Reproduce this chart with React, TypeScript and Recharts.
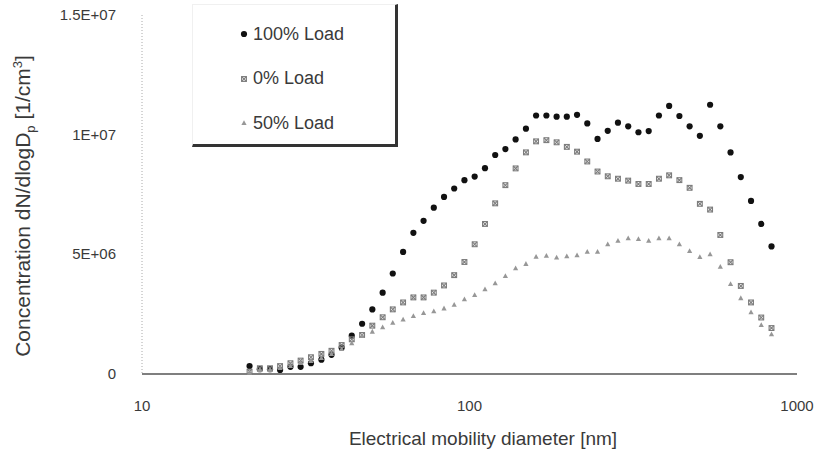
import React from 'react'
import {
  ScatterChart, Scatter, XAxis, YAxis, ZAxis,
} from 'recharts'

// mobility diameters [nm], 32 channels per decade
const diameters = [
  21.3, 22.9, 24.6, 26.4, 28.4, 30.5, 32.8, 35.3, 37.9, 40.7,
  43.7, 47.0, 50.5, 54.3, 58.3, 62.7, 67.4, 72.4, 77.8, 83.6,
  89.8, 96.5, 103.7, 111.5, 119.8, 128.7, 138.3, 148.7, 159.7, 171.7,
  184.5, 198.2, 213.0, 228.9, 246.0, 264.3, 284.0, 305.2, 328.0, 352.5,
  378.8, 407.0, 437.4, 470.0, 505.1, 542.8, 583.3, 626.8, 673.6, 723.8,
  777.8, 835.9,
]

// concentrations in 1E+06 / cm3
const load100 = [
  0.33, 0.2, 0.2, 0.17, 0.3, 0.3, 0.45, 0.6, 0.8, 1.1,
  1.6, 2.1, 2.7, 3.4, 4.2, 5.1, 5.9, 6.4, 6.95, 7.4,
  7.75, 8.1, 8.25, 8.6, 9.15, 9.4, 9.8, 10.25, 10.8, 10.8,
  10.75, 10.75, 10.83, 10.47, 9.82, 10.16, 10.5, 10.35, 10.1, 10.15,
  10.8, 11.2, 10.78, 10.35, 9.95, 11.25, 10.35, 9.26, 8.23, 7.23,
  6.27, 5.33,
]

const load0 = [
  0.1, 0.24, 0.24, 0.33, 0.45, 0.56, 0.7, 0.84, 0.97, 1.21,
  1.45, 1.63, 2.02, 2.37, 2.7, 2.99, 3.2, 3.2, 3.4, 3.7,
  4.13, 4.68, 5.42, 6.27, 7.13, 7.89, 8.59, 9.26, 9.72, 9.77,
  9.68, 9.49, 9.29, 8.88, 8.46, 8.26, 8.16, 8.08, 7.94, 7.94,
  8.16, 8.3, 8.1, 7.78, 7.11, 6.87, 5.81, 4.67, 3.68, 2.99,
  2.36, 1.92,
]

const load50 = [
  0.05, 0.17, 0.17, 0.25, 0.33, 0.46, 0.54, 0.67, 0.84, 1.04,
  1.28, 1.59, 1.77, 1.95, 2.14, 2.28, 2.42, 2.55, 2.62, 2.74,
  2.89, 3.12, 3.3, 3.54, 3.79, 4.09, 4.42, 4.6, 4.9, 4.94,
  4.87, 4.92, 4.96, 5.11, 5.11, 5.42, 5.57, 5.67, 5.64, 5.57,
  5.67, 5.67, 5.42, 5.14, 4.89, 5.0, 4.48, 3.76, 3.17, 2.58,
  2.05, 1.66,
]

const yTicks = [0, 5e6, 1e7, 1.5e7]
const yTickLabels = ['0', '5E+06', '1E+07', '1.5E+07']
const xTicks = [10, 100, 1000]

const toPoints = (vals: number[]) => vals.map((v, i) => ({ x: diameters[i], y: v * 1e6 }))

const FONT = '"Liberation Sans", Arial, sans-serif'
const TEXT = '#3a3a3a'

const series = [
  { name: '100% Load', data: toPoints(load100), color: '#111111', kind: 'dot' },
  { name: '0% Load', data: toPoints(load0), color: '#7c7c7c', kind: 'cross' },
  { name: '50% Load', data: toPoints(load50), color: '#979797', kind: 'tri' },
]

function Marker({ cx, cy, color, kind }: any) {
  if (cx == null || cy == null) return null
  if (kind === 'dot') {
    return <circle cx={cx} cy={cy} r={3.1} fill={color} />
  }
  if (kind === 'cross') {
    return (
      <g>
        <rect x={cx - 2.4} y={cy - 2.4} width={4.8} height={4.8} fill="none" stroke={color} strokeWidth={1.1} />
        <path d={`M${cx - 2.4},${cy - 2.4}L${cx + 2.4},${cy + 2.4}M${cx + 2.4},${cy - 2.4}L${cx - 2.4},${cy + 2.4}`} stroke={color} strokeWidth={1.1} />
      </g>
    )
  }
  return <path d={`M${cx},${cy - 2.8}L${cx + 2.6},${cy + 2}L${cx - 2.6},${cy + 2}Z`} fill={color} />
}

function YTick({ x, y, payload }: any) {
  const i = yTicks.indexOf(payload.value)
  return (
    <text x={x} y={y} dy={5} textAnchor="end" fontSize={15} fontFamily={FONT} fill={TEXT}>
      {yTickLabels[i] ?? payload.value}
    </text>
  )
}

function LegendBox() {
  return (
    <div style={{
      position: 'absolute', left: 192, top: 4, width: 206, height: 143,
      borderRight: '3px solid #333', borderBottom: '3px solid #333',
      borderTop: '1px solid #f0f0f0', borderLeft: '1px solid #f0f0f0', boxSizing: 'border-box',
      fontFamily: FONT, fontSize: 18, color: TEXT,
    }}>
      {series.map((s, i) => (
        <div key={s.name} style={{ position: 'absolute', top: 17 + i * 44.5, left: 46, display: 'flex', alignItems: 'center', height: 24 }}>
          <svg width={10} height={12} style={{ marginRight: 4 }}>
            <Marker cx={5} cy={6} color={s.color} kind={s.kind} />
          </svg>
          <span>{s.name}</span>
        </div>
      ))}
    </div>
  )
}

export default function App() {
  return (
    <div style={{ position: 'absolute', left: 0, top: 0, width: 820, height: 457, background: '#fff' }}>
      <ScatterChart width={820} height={457} margin={{ top: 15, right: 23, bottom: 0, left: 0 }}>
        <XAxis
          type="number" dataKey="x" scale="log" domain={[10, 1000]} ticks={xTicks}
          allowDataOverflow height={83} tickLine={false} tickMargin={20}
          axisLine={{ stroke: '#555', strokeWidth: 1.6 }}
          tick={{ fontSize: 15, fill: TEXT, fontFamily: FONT }}
        />
        <YAxis
          type="number" dataKey="y" domain={[0, 1.5e7]} ticks={yTicks} width={142}
          tickLine={false} axisLine={{ stroke: '#aaa', strokeDasharray: '1 2' }}
          tick={<YTick />} tickMargin={20}
        />
        <ZAxis range={[30, 30]} />
        {series.map((s) => (
          <Scatter
            key={s.name} name={s.name} data={s.data} fill={s.color} isAnimationActive={false}
            shape={(p: any) => <Marker cx={p.cx} cy={p.cy} color={s.color} kind={s.kind} />}
          />
        ))}
        <text x={483} y={445} textAnchor="middle" fontSize={19} fontFamily={FONT} fill={TEXT}>
          Electrical mobility diameter [nm]
        </text>
        <text transform="translate(30,206) rotate(-90)" textAnchor="middle" fontSize={21} fontFamily={FONT} fill={TEXT}>
          Concentration dN/dlogD<tspan fontSize={13} dy={5}>p</tspan><tspan dy={-5}> [1/cm</tspan><tspan fontSize={13} dy={-8}>3</tspan><tspan dy={8}>]</tspan>
        </text>
      </ScatterChart>
      <LegendBox />
    </div>
  )
}
